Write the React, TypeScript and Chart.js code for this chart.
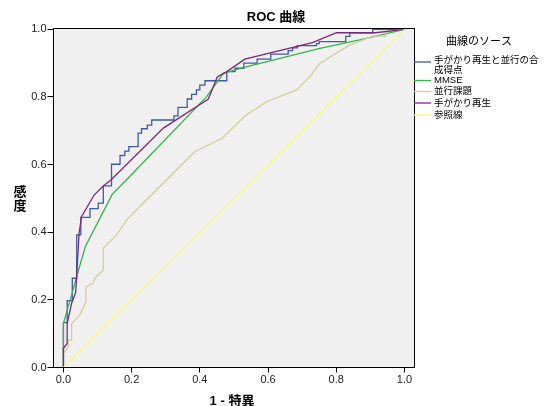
import React, { useEffect, useRef } from "react";
import { Chart, registerables } from "chart.js";

Chart.register(...registerables);

// ---- Data ----
const seriesNames = ["手がかり再生と並行の合成得点", "MMSE", "並行課題", "手がかり再生", "参照線"];
const legendLines = [["手がかり再生と並行の合", "成得点"], ["MMSE"], ["並行課題"], ["手がかり再生"], ["参照線"]];
const seriesColors = ["#3E58AC", "#2EB848", "#D3CE97", "#7C287D", "#FBF873"];

const combinedFpr = [0, 0, 0.011, 0.011, 0.026, 0.026, 0.039, 0.039, 0.051, 0.051, 0.078, 0.078, 0.102, 0.102, 0.117, 0.117, 0.141, 0.141, 0.166, 0.166, 0.18, 0.18, 0.192, 0.192, 0.219, 0.219, 0.229, 0.229, 0.246, 0.246, 0.259, 0.259, 0.324, 0.324, 0.336, 0.336, 0.363, 0.363, 0.376, 0.376, 0.39, 0.39, 0.4, 0.4, 0.415, 0.415, 0.479, 0.479, 0.503, 0.503, 0.529, 0.529, 0.568, 0.568, 0.608, 0.608, 0.659, 0.659, 0.672, 0.672, 0.686, 0.686, 0.742, 0.742, 0.75, 0.75, 0.828, 0.828, 0.84, 0.84, 0.907, 0.907, 1];
const combinedTpr = [0, 0.133, 0.133, 0.198, 0.198, 0.264, 0.264, 0.392, 0.392, 0.444, 0.444, 0.47, 0.47, 0.486, 0.486, 0.537, 0.537, 0.601, 0.601, 0.627, 0.627, 0.64, 0.64, 0.653, 0.653, 0.693, 0.693, 0.706, 0.706, 0.717, 0.717, 0.732, 0.732, 0.744, 0.744, 0.769, 0.769, 0.794, 0.794, 0.808, 0.808, 0.821, 0.821, 0.835, 0.835, 0.848, 0.848, 0.875, 0.875, 0.885, 0.885, 0.9, 0.9, 0.912, 0.912, 0.927, 0.927, 0.937, 0.937, 0.945, 0.945, 0.952, 0.952, 0.958, 0.958, 0.964, 0.964, 0.979, 0.979, 0.99, 0.99, 1, 1];

const mmseFpr = [0, 0, 0.014, 0.024, 0.039, 0.064, 0.143, 0.185, 0.42, 0.469, 0.527, 0.752, 0.879, 1];
const mmseTpr = [0, 0.13, 0.18, 0.214, 0.269, 0.357, 0.512, 0.555, 0.801, 0.87, 0.887, 0.944, 0.971, 1];

const parallelFpr = [0, 0, 0.014, 0.014, 0.024, 0.024, 0.048, 0.066, 0.066, 0.087, 0.092, 0.117, 0.117, 0.156, 0.185, 0.244, 0.303, 0.386, 0.466, 0.532, 0.596, 0.684, 0.723, 0.752, 0.84, 0.908, 0.945, 0.945, 1];
const parallelTpr = [0, 0.04, 0.06, 0.081, 0.081, 0.13, 0.155, 0.195, 0.239, 0.249, 0.264, 0.288, 0.353, 0.392, 0.436, 0.496, 0.555, 0.639, 0.678, 0.744, 0.786, 0.821, 0.86, 0.9, 0.954, 0.98, 0.98, 0.993, 1];

const cuedFpr = [0, 0, 0.011, 0.011, 0.024, 0.036, 0.046, 0.053, 0.09, 0.117, 0.14, 0.293, 0.425, 0.451, 0.479, 0.532, 0.73, 0.801, 0.915, 1];
const cuedTpr = [0, 0.056, 0.071, 0.13, 0.19, 0.222, 0.397, 0.446, 0.51, 0.537, 0.555, 0.708, 0.794, 0.859, 0.875, 0.912, 0.961, 0.99, 0.99, 1];

const refFpr = [0, 1];
const refTpr = [0, 1];

const xTicks = [0, 0.2, 0.4, 0.6, 0.8, 1.0];
const yTicks = [0, 0.2, 0.4, 0.6, 0.8, 1.0];

const chartTitle = "ROC 曲線";
const xTitle = "1 - 特異";
const yTitle = ["感", "度"];
const legendTitle = "曲線のソース";

function pts(xs: number[], ys: number[]) {
  return xs.map((x, i) => ({ x, y: ys[i] }));
}

const fontFamily = "'Liberation Sans', 'Noto Sans CJK JP', sans-serif";

const decorPlugin = {
  id: "decor",
  beforeDraw(chart: any) {
    const { ctx, chartArea } = chart;
    ctx.save();
    ctx.fillStyle = "#f0f0f0";
    ctx.fillRect(chartArea.left, chartArea.top, chartArea.right - chartArea.left, chartArea.bottom - chartArea.top);
    ctx.restore();
  },
  afterDraw(chart: any) {
    const { ctx, chartArea } = chart;
    ctx.save();
    // frame
    ctx.strokeStyle = "#000";
    ctx.lineWidth = 1;
    ctx.strokeRect(Math.round(chartArea.left) + 0.5, Math.round(chartArea.top) + 0.5,
      Math.round(chartArea.right - chartArea.left) - 1, Math.round(chartArea.bottom - chartArea.top) - 1);

    ctx.fillStyle = "#000";
    ctx.textBaseline = "middle";
    // title
    ctx.font = `bold 13px ${fontFamily}`;
    ctx.textAlign = "center";
    ctx.fillText(chartTitle, 276, 17);
    // x title
    ctx.fillText(xTitle, 232, 401);
    // y title (stacked)
    ctx.fillText(yTitle[0], 20, 192);
    ctx.fillText(yTitle[1], 20, 206);

    // legend
    ctx.font = `11px ${fontFamily}`;
    ctx.fillText(legendTitle, 479, 42);
    ctx.textAlign = "left";
    ctx.font = `9.5px ${fontFamily}`;
    const rowY = [62, 80.5, 91.5, 103, 115];
    legendLines.forEach((lines, i) => {
      ctx.strokeStyle = seriesColors[i];
      ctx.lineWidth = 1.3;
      ctx.beginPath();
      ctx.moveTo(414, rowY[i]);
      ctx.lineTo(431, rowY[i]);
      ctx.stroke();
      lines.forEach((t, j) => {
        ctx.fillText(t, 434, rowY[i] - (lines.length > 1 ? 1.5 : 0) + j * 9.5);
      });
    });
    ctx.restore();
  },
};

export default function App() {
  const ref = useRef<HTMLCanvasElement | null>(null);
  useEffect(() => {
    if (!ref.current) return;
    const data = [
      pts(combinedFpr, combinedTpr),
      pts(mmseFpr, mmseTpr),
      pts(parallelFpr, parallelTpr),
      pts(cuedFpr, cuedTpr),
      pts(refFpr, refTpr),
    ];
    const chart = new Chart(ref.current, {
      type: "scatter",
      data: {
        datasets: data.map((d, i) => ({
          label: seriesNames[i],
          data: d,
          showLine: true,
          borderColor: seriesColors[i],
          backgroundColor: seriesColors[i],
          borderWidth: 1.3,
          pointRadius: 0,
          tension: 0,
          order: 5 - i,
        })),
      },
      options: {
        responsive: false,
        animation: false,
        layout: { padding: { left: 0, top: 28, right: 131, bottom: 0 } },
        plugins: {
          legend: { display: false },
          tooltip: { enabled: false },
          title: { display: false },
        },
        scales: {
          x: {
            type: "linear",
            min: -0.032,
            max: 1.028,
            afterFit: (s: any) => { s.height = 38.5; },
            afterBuildTicks: (s: any) => { s.ticks = xTicks.map((v) => ({ value: v })); },
            grid: { display: true, drawOnChartArea: false, drawTicks: true, tickLength: 5, color: "#000" },
            border: { display: false },
            ticks: {
              padding: 1,
              color: "#222",
              font: { family: fontFamily, size: 11 },
              callback: (v: any) => Number(v).toFixed(1),
              maxRotation: 0,
              autoSkip: false,
            },
          },
          y: {
            type: "linear",
            min: 0,
            max: 1.004,
            afterFit: (s: any) => { s.width = 52.5; },
            afterBuildTicks: (s: any) => { s.ticks = yTicks.map((v) => ({ value: v })); },
            grid: { display: true, drawOnChartArea: false, drawTicks: true, tickLength: 5, color: "#000" },
            border: { display: false },
            ticks: {
              padding: 1,
              color: "#222",
              font: { family: fontFamily, size: 11 },
              callback: (v: any) => Number(v).toFixed(1),
              autoSkip: false,
            },
          },
        },
      },
      plugins: [decorPlugin],
    });
    return () => chart.destroy();
  }, []);
  return (
    <div style={{ position: "fixed", left: 0, top: 0, width: 545, height: 406, background: "#fff" }}>
      <canvas ref={ref} width={545} height={406} style={{ width: 545, height: 406, display: "block" }} />
    </div>
  );
}
